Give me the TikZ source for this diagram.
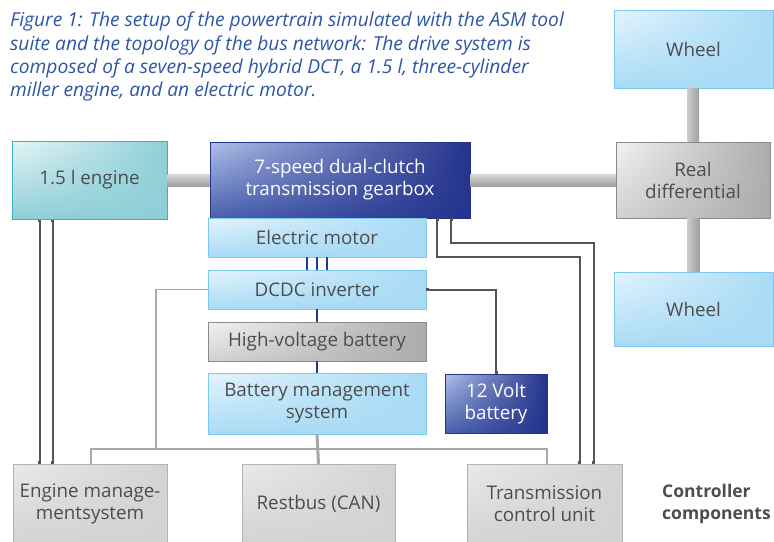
\documentclass[tikz,border=0pt]{standalone}
\usepackage{fontspec}
\setmainfont{Open Sans}
\usetikzlibrary{positioning,calc,shadows,shadings,arrows.meta}
\definecolor{capblue}{HTML}{2E56A8}
\definecolor{txtgray}{HTML}{4D4D4D}
\definecolor{skyfill}{HTML}{A9DBF5}
\definecolor{skylight}{HTML}{E4F4FD}
\definecolor{skyline}{HTML}{7CC8EE}
\definecolor{navyfill}{HTML}{24338C}
\definecolor{navylight}{HTML}{AFC0E7}
\definecolor{navymid}{HTML}{4A60AE}
\definecolor{tealfill}{HTML}{8ECFD7}
\definecolor{teallight}{HTML}{E6F5F7}
\definecolor{tealline}{HTML}{3AB3BD}
\definecolor{greyfill}{HTML}{ACACAC}
\definecolor{greylight}{HTML}{F2F2F2}
\definecolor{ctrlfill}{HTML}{D3D3D3}
\definecolor{ctrllight}{HTML}{E9E9E9}
\definecolor{wiregray}{HTML}{555555}
\definecolor{busgray}{HTML}{A8A8A8}
\definecolor{hvblue}{HTML}{1F3B99}

\tikzset{
  blk/.style={rectangle,inner sep=0pt,align=center,text=txtgray,
    font=\fontsize{18.8}{22}\selectfont,
    drop shadow={shadow xshift=1.2pt,shadow yshift=-1.2pt,opacity=0.25,fill=black}},
  skybox/.style={blk,draw=skyline,line width=0.6pt,upper left=skylight,upper right=skyfill,lower left=skyfill,lower right=skyfill},
  navybox/.style={blk,draw=navyfill,line width=0.6pt,text=white,upper left=navylight,lower left=navymid,upper right=navyfill,lower right=navyfill},
  tealbox/.style={blk,draw=tealline,line width=1pt,upper left=teallight,upper right=tealfill,lower left=tealfill,lower right=tealfill},
  greybox/.style={blk,draw=greyfill!80!black,line width=0.4pt,upper left=greylight,upper right=greyfill,lower left=greyfill!55!white,lower right=greyfill},
  ctrlbox/.style={blk,draw=ctrlfill!85!black,line width=0.4pt,upper left=ctrllight,upper right=ctrlfill,lower left=ctrlfill,lower right=ctrlfill},
  shafth/.style={top color=black!15,bottom color=black!38},
  shaftv/.style={left color=black!20,right color=black!38},
  wire/.style={draw=wiregray,line width=2pt,{Square[length=2.5pt,width=3pt]}-{Square[length=2.5pt,width=3pt]}},
  hv/.style={draw=hvblue,line width=2.6pt},
  bus/.style={draw=busgray,line width=1.6pt}
}

\begin{document}
\begin{tikzpicture}[x=1pt,y=-1pt]
  \useasboundingbox (0,0) rectangle (774,541);

  \node[anchor=north west,align=left,text=capblue,inner sep=0pt,
    font=\fontsize{19.2}{23.3}\selectfont\itshape] (caption) at (10,12)
    {Figure 1: The setup of the powertrain simulated with the ASM tool\\
     suite and the topology of the bus network: The drive system is\\
     composed of a seven-speed hybrid DCT, a 1.5 l, three-cylinder\\
     miller engine, and an electric motor.};

  \node[tealbox,minimum width=155pt,minimum height=78pt] (engine) at (89.5,180) {1.5 l engine};
  \node[navybox,minimum width=260pt,minimum height=76pt] (gear) at (340,180) {7-speed dual-clutch\\transmission gearbox};
  \node[greybox,minimum width=154pt,minimum height=76pt] (diff) at (693,180) {Real\\differential};
  \node[skybox,minimum width=159pt,minimum height=78pt] (wheelT) at (693.5,49) {Wheel};
  \node[skybox,minimum width=159pt,minimum height=74pt] (wheelB) at (693.5,309) {Wheel};

  \node[skybox,minimum width=218pt,minimum height=39pt] (emotor) at (317,237.5) {Electric motor};
  \node[skybox,minimum width=218pt,minimum height=39pt] (dcdc) at (317,289.5) {DCDC inverter};
  \node[greybox,minimum width=218pt,minimum height=39pt] (hvbat) at (317,341.5) {High-voltage battery};
  \node[skybox,minimum width=218pt,minimum height=61pt] (bms) at (317,403.5) {Battery management\\system};
  \node[navybox,minimum width=102pt,minimum height=59pt] (vbat) at (496,403.5) {12 Volt\\battery};

  \node[ctrlbox,minimum width=154pt,minimum height=80pt] (emgmt) at (90,504) {Engine manage-\\mentsystem};
  \node[ctrlbox,minimum width=153pt,minimum height=80pt] (restbus) at (318.5,504) {Restbus (CAN)};
  \node[ctrlbox,minimum width=155pt,minimum height=80pt] (tcu) at (544.5,504) {Transmission\\control unit};
  \node[anchor=west,align=left,text=txtgray,inner sep=0pt,
    font=\fontsize{17.5}{22}\selectfont\bfseries] (ctrllabel) at (662,504) {Controller\\components};

  \shade[shafth] ($(engine.east)+(0,-6)$) rectangle ($(gear.west)+(0,6)$);
  \shade[shafth] ($(gear.east)+(0,-6)$) rectangle ($(diff.west)+(0,6)$);
  \shade[shaftv] ($(wheelT.south)+(-6,0)$) rectangle ($(diff.north)+(6,0)$);
  \shade[shaftv] ($(diff.south)+(-6,0)$) rectangle ($(wheelB.north)+(6,0)$);

  \foreach \dx in {-10,0,10}
    \draw[hv] ($(emotor.south)+(\dx,0)$) -- ($(dcdc.north)+(\dx,0)$);
  \draw[hv] (dcdc.south) -- (hvbat.north);
  \draw[hv] (hvbat.south) -- (bms.north);

  \coordinate (busW) at (91,449);
  \coordinate (busD) at (156,449);
  \coordinate (busE) at (547,449);
  \draw[bus] (busW |- emgmt.north) -- (busW) -- (busE) -- (busE |- tcu.north);
  \draw[bus] (dcdc.west) -| (busD);
  \draw[bus,line width=3pt] (bms.south) -- (restbus.north);

  \draw[wire] ($(engine.south west)+(28,0)$) coordinate (e1) -- (e1 |- emgmt.north);
  \draw[wire] ($(engine.south west)+(41,0)$) coordinate (e2) -- (e2 |- emgmt.north);
  \draw[wire] ($(gear.south east)+(-33,0)$) -- ++(0,39) -| ($(tcu.north west)+(113,0)$);
  \draw[wire] ($(gear.south east)+(-19,0)$) -- ++(0,25) -| ($(tcu.north west)+(127,0)$);
  \draw[wire] (dcdc.east) -| (vbat.north);
\end{tikzpicture}
\end{document}
